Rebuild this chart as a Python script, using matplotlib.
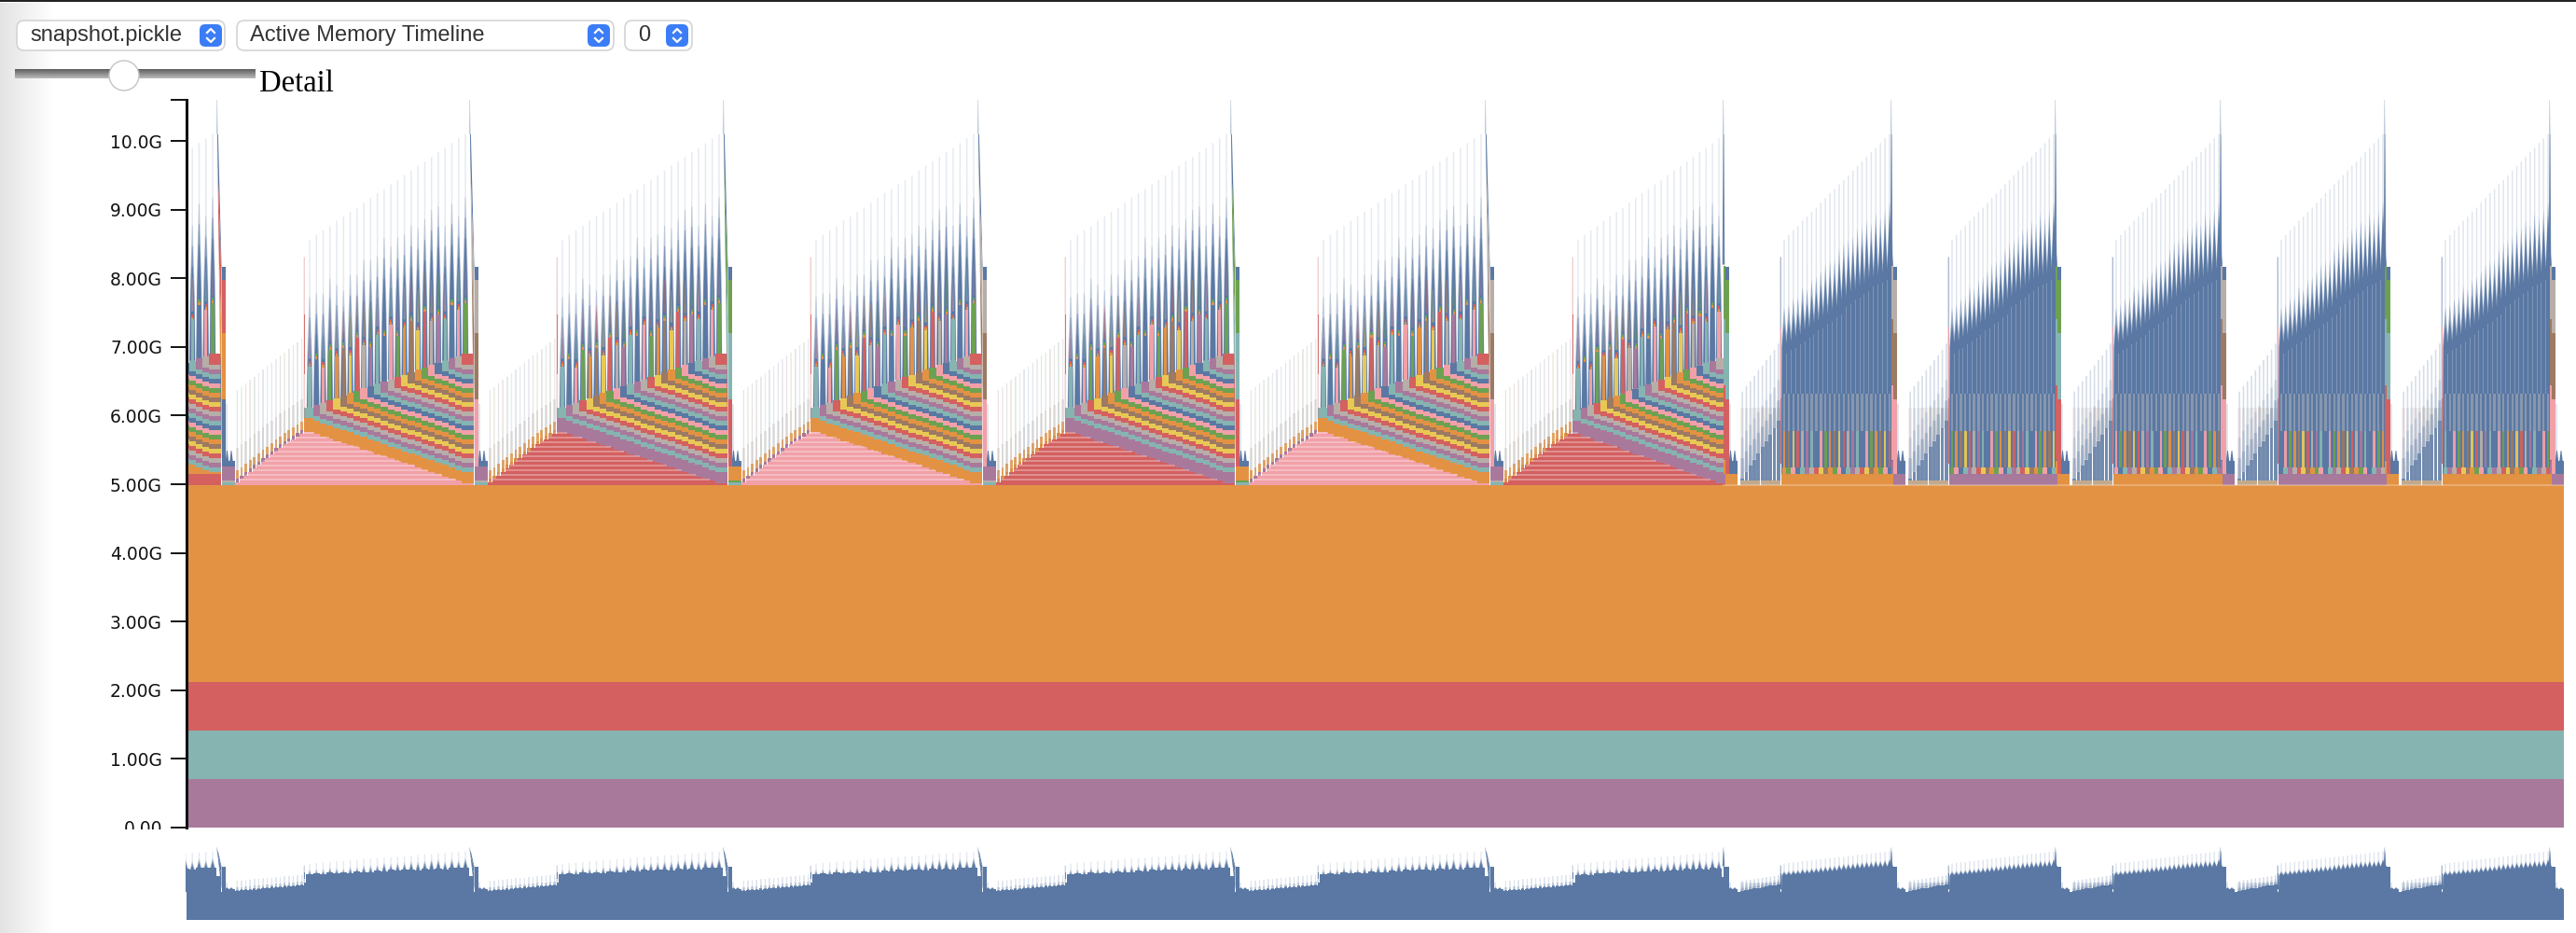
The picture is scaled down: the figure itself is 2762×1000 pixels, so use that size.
import numpy as np
import matplotlib
matplotlib.use("Agg")
import matplotlib.pyplot as plt
from matplotlib.collections import PolyCollection
from matplotlib.colors import to_rgba
from matplotlib.patches import Ellipse, FancyBboxPatch
from matplotlib.transforms import Bbox

# heights are in G, times are the timeline position of each allocation step
BLUE, ORANGE, RED, TEAL, GREEN = "#5a78a3", "#e39243", "#d46060", "#86b4b1", "#6da152"
YELLOW, PURPLE, PINK, BROWN, GREY = "#e8c855", "#a9799c", "#f2a0a8", "#9c7a63", "#b7aea9"
PALETTE = [BLUE, ORANGE, RED, TEAL, GREEN, YELLOW, PURPLE, PINK, BROWN, GREY]

BASE_BANDS = [(0.0, 0.71, PURPLE), (0.71, 1.42, TEAL), (1.42, 2.12, RED), (2.12, 4.99, ORANGE)]
Y_TICKS = [0, 1, 2, 3, 4, 5, 6, 7, 8, 9, 10]
Y_LABELS = ["0.00", "1.00G", "2.00G", "3.00G", "4.00G", "5.00G", "6.00G", "7.00G", "8.00G", "9.00G", "10.0G"]
Y_MAX = 10.6
T_END = 2549

LONG_PEAKS = [32, 303, 575, 848, 1119, 1392, 1647]
SHORT_PEAKS = [1647, 1827, 2003, 2180, 2356, 2533]
LONG_BAND = [ORANGE, PURPLE, ORANGE, PURPLE, ORANGE, PURPLE]
LONG_TRI = [PINK, RED, PINK, RED, PINK, RED]
SHORT_BASE = [ORANGE, PURPLE, ORANGE, PURPLE, ORANGE]
TAIL_PEAKS = [32, 303, 575, 848, 1119, 1392, 1647, 1827, 2003, 2180, 2356, 2533]
TAIL_BLOCK = [PURPLE, PURPLE, ORANGE, PURPLE, ORANGE, PURPLE, ORANGE, PURPLE, ORANGE, PURPLE, ORANGE, PURPLE]
TAIL_TIERS = [
    (RED, ORANGE, BLUE), (GREY, BROWN, PINK), (GREEN, TEAL, RED), (GREY, BROWN, PINK),
    (GREEN, TEAL, RED), (GREY, BROWN, PINK), (GREEN, TEAL, RED), (GREY, BROWN, PINK),
    (GREEN, TEAL, RED), (GREY, BROWN, PINK), (GREEN, TEAL, RED), (GREY, BROWN, PINK),
]
TAIL_LEVELS = [7.98, 7.20, 6.24, 5.26]
WEDGE_LEVELS = [9.63, 8.40, 7.06, 5.60]

PALE_TOP = [8.56, 8.63, 8.70, 8.76, 8.84, 8.90, 8.97, 9.03, 9.10, 9.17, 9.24, 9.30,
            9.37, 9.43, 9.50, 9.57, 9.64, 9.70, 9.77, 9.84, 9.90, 9.97, 10.04, 10.10]
LONG_BLUE_TOP = [7.43, 7.48, 7.48, 7.70, 7.61, 7.52, 7.75, 7.75, 7.97, 7.97, 8.02, 8.29,
                 8.16, 8.29, 8.34, 8.47, 8.43, 8.56, 8.70, 8.75, 8.47, 8.79, 8.61, 8.88]
BAND_TOP = [5.96, 5.93, 5.89, 5.86, 5.82, 5.79, 5.76, 5.72, 5.69, 5.65, 5.62, 5.59,
            5.55, 5.52, 5.48, 5.45, 5.42, 5.38, 5.35, 5.31, 5.28, 5.25, 5.21, 5.18]
TRI_TOP = [5.76, 5.73, 5.70, 5.67, 5.63, 5.60, 5.57, 5.54, 5.51, 5.47, 5.44, 5.41,
           5.38, 5.34, 5.31, 5.28, 5.24, 5.21, 5.18, 5.15, 5.11, 5.08, 5.05, 5.01]
BAR_LEN = [0.59, 0.66, 0.52, 0.74, 0.61, 0.70, 0.55, 0.78, 0.63, 0.58, 0.72, 0.66,
           0.80, 0.60, 0.69, 0.75, 0.57, 0.82, 0.64, 0.71, 0.60, 0.77, 0.68, 0.73]
RAMP_TOP = [5.03, 5.08, 5.13, 5.18, 5.23, 5.28, 5.33, 5.38, 5.43, 5.48, 5.53, 5.58, 5.62, 5.66, 5.70, 5.74]
RAMP_PALE_TOP = [6.37, 6.42, 6.47, 6.52, 6.57, 6.62, 6.67, 6.72, 6.77, 6.82, 6.87, 6.92, 6.97, 7.02, 7.07, 7.12]
SHORT_RAMP_PALE = [6.35, 6.43, 6.50, 6.58, 6.66, 6.73, 6.81, 6.88, 6.96, 7.05]
SHORT_RAMP_BLUE = [5.08, 5.18, 5.27, 5.36, 5.45, 5.54, 5.63, 5.72, 5.81, 5.92]
SHORT_BLUE_TOP = [7.48, 7.52, 7.61, 7.63, 7.79, 7.75, 7.88, 7.93, 8.02, 8.11, 8.16, 8.18,
                  8.34, 8.43, 8.47, 8.52, 8.63, 8.65, 8.75, 8.70, 8.86, 8.79, 8.90, 9.02]
SHORT_NOTCH = [7.00, 7.06, 7.08, 7.14, 7.18, 7.24, 7.27, 7.34, 7.37, 7.44, 7.47, 7.54,
               7.58, 7.68, 7.72, 7.79, 7.82, 7.88, 7.92, 7.98, 8.01, 8.04, 8.08, 8.13]
STRIPE = 0.068


def add(shapes, verts, color, alpha=1.0):
    shapes.append((verts, to_rgba(color, alpha)))


def rect(shapes, x0, x1, y0, y1, color, alpha=1.0):
    add(shapes, [(x0, y0), (x1, y0), (x1, y1), (x0, y1)], color, alpha)


def spike(shapes, x, base, top, half_base, half_top, color, alpha=1.0):
    add(shapes, [(x - half_base, base), (x + half_base, base), (x + half_top, top), (x - half_top, top)], color, alpha)


def taper(shapes, x, base, top, half_base, color, alpha=1.0):
    # wide foot, slow narrowing, long thin tip
    mid = base + (top - base) * 0.55
    add(shapes, [(x - half_base, base), (x + half_base, base), (x + half_base * 0.75, mid), (x + 0.4, top),
                 (x - 0.4, top), (x - half_base * 0.75, mid)], color, alpha)


def long_cycle(shapes, mini, p0, p1, band, tri, n):
    ramp_end = p0 + 94
    start = p0 + 100
    step = (p1 - 4 - start) / (n - 1)
    tri_top = TRI_TOP[-n:]
    band_top = BAND_TOP[-n:]
    xs = [start + step * k for k in range(n)]

    ramp_step = (ramp_end - (p0 + 20)) / len(RAMP_TOP)
    ramp_x = [p0 + 20 + ramp_step * (i + 0.5) for i in range(len(RAMP_TOP))]
    for i, x in enumerate(ramp_x):
        top = RAMP_TOP[i]
        rect(shapes, x - ramp_step / 2, x + ramp_step / 2, 4.99, top, tri)
        edge = [PURPLE, ORANGE][0 if tri == PINK else 1]
        rect(shapes, x - 1.6, x + 1.6, top, top + 0.05, edge)
        rect(shapes, x - 1.4, x + 1.4, top + 0.05, top + 0.17, ORANGE, 0.8)
        rect(shapes, x - 1.2, x + 1.2, top + 0.17, top + 0.5, GREY, 0.28)
        spike(shapes, x, top, RAMP_PALE_TOP[i], 0.8, 0.8, PALETTE[(i * 3 + 2) % 10], 0.1)
        spike(shapes, x, top, RAMP_PALE_TOP[i], 0.8, 0.7, BLUE, 0.1)

    # spikes behind the stack
    for k, x in enumerate(xs):
        top = band_top[k] + k * STRIPE + 0.16
        blue_top = LONG_BLUE_TOP[k]
        spike(shapes, x, top, PALE_TOP[k], 0.85, 0.75, BLUE, 0.15)
        rect(mini, x - step / 2, x + step / 2, 5.0, top + BAR_LEN[k] + 0.45, BLUE)
        taper(shapes, x, top, blue_top + 0.3, 3.4, BLUE, 0.3)
        taper(shapes, x, top, blue_top, 3.1, BLUE, 0.6)
        taper(shapes, x, top, blue_top - 0.3, 2.8, BLUE, 1.0)

    for k, x in enumerate(xs):
        x0 = ramp_end if k == 0 else x - step / 2
        x1 = p1 + 5 if k == n - 1 else x + step / 2
        rect(shapes, x0, x1, 4.99, tri_top[k], tri)
        rect(shapes, x0, x1, tri_top[k], band_top[k], band)
        for j in range(k):
            y = band_top[k] + j * STRIPE
            rect(shapes, x0, x1, y, y + STRIPE, PALETTE[(j * 3 + 3) % 10])
        y = band_top[k] + k * STRIPE
        rect(shapes, x0, x1, y, y + 0.16, PALETTE[(k * 3 + 3) % 10])
        top = y + 0.16
        bar = PALETTE[(k * 7 + 3) % 10]
        rect(shapes, x - 1.7, x + 1.7, top, top + BAR_LEN[k], bar)
        d = top + BAR_LEN[k]
        rect(shapes, x - 1.1, x + 1.1, d, d + 0.04, ORANGE)
        rect(shapes, x - 1.1, x + 1.1, d + 0.04, d + 0.08, GREEN if k % 2 else RED)
        rect(shapes, x - 1.0, x + 1.0, d + 0.08, d + 0.12, BLUE)
        spike(shapes, x, d + 0.12, d + 0.6, 1.2, 0.3, PALETTE[(k * 3 + 7) % 10], 0.45)

    # thin paler rules through the triangle
    tops = np.array(RAMP_TOP)
    for level in np.arange(5.06, 5.74, STRIPE):
        left = np.interp(level, tops, ramp_x)
        right = np.interp(-level, -np.array(tri_top), xs)
        rect(shapes, left, right, level, level + 0.016, "white", 0.3)

    spike(shapes, ramp_end + 0.3, 5.96, 8.31, 0.8, 0.7, RED, 0.3)
    spike(shapes, ramp_end + 0.3, 6.60, 7.47, 0.8, 0.8, RED, 0.85)


def short_cycle(shapes, mini, p0, p1, base, offset):
    ramp_start = p0 + 19
    ramp_end = p0 + 62
    ramp_step = (ramp_end - ramp_start) / len(SHORT_RAMP_PALE)
    for i in range(len(SHORT_RAMP_PALE)):
        x = ramp_start + ramp_step * (i + 0.5)
        b = SHORT_RAMP_BLUE[i]
        spike(shapes, x, 5.0, SHORT_RAMP_PALE[i], 0.9, 0.8, BLUE, 0.25)
        rect(shapes, x - 1.9, x + 1.9, 5.0, 6.11, PALETTE[(i * 3 + 7) % 10], 0.09)
        rect(shapes, x - 1.9, x + 1.9, 5.0, 6.11, GREY, 0.09)
        spike(shapes, x, b, b + 0.6, 1.9, 1.3, BLUE, 0.18)
        spike(shapes, x, b, b + 0.3, 1.9, 1.5, BLUE, 0.3)
        rect(shapes, x - 1.9, x + 1.9, 5.06, b, BLUE, 0.8)
        rect(shapes, x - 2.1, x + 2.1, 4.99, 5.06, "#c3a98c")
        rect(mini, x - ramp_step / 2, x + ramp_step / 2, 4.99, b, BLUE)

    # the base runs under the whole column block
    rect(shapes, ramp_end + 1, p1 + 3, 4.99, 5.15, base)
    n = len(SHORT_BLUE_TOP)
    start = p0 + 66
    step = (p1 - 1 - start) / (n - 1)
    xs = [start + step * k for k in range(n)]
    for k, x in enumerate(xs):
        spike(shapes, x, 5.3, PALE_TOP[k], 0.85, 0.75, BLUE, 0.18)

    verts = [(ramp_end + 1, 5.15)]
    faded = [(ramp_end + 1, 5.15)]
    for k, x in enumerate(xs):
        verts += [(x - step / 2, SHORT_NOTCH[k]), (x, SHORT_BLUE_TOP[k] - 0.12)]
        faded += [(x - step / 2, SHORT_NOTCH[k] + 0.12), (x, SHORT_BLUE_TOP[k] + 0.1)]
    verts += [(p1 + 3, SHORT_NOTCH[-1]), (p1 + 3, 5.15)]
    faded += [(p1 + 3, SHORT_NOTCH[-1]), (p1 + 3, 5.15)]
    add(shapes, faded, BLUE, 0.55)
    add(shapes, verts, BLUE)

    for k, x in enumerate(xs):
        rect(shapes, x - step / 2, x + step / 2, 5.15, 5.245, PALETTE[(k * 3 + offset) % 10])
        rect(shapes, x - 1.3, x + 1.3, 5.245, 5.78, PALETTE[(k * 7 + offset) % 10], 0.95)
        rect(shapes, x - 1.2, x + 1.2, 5.78, 6.32, "#b6b7ba", 0.5)
        rect(shapes, x + step / 2 - 0.5, x + step / 2 + 0.5, 6.32, SHORT_NOTCH[k] - 0.1, "white", 0.22)

    spike(shapes, ramp_end + 0.3, 5.3, 8.31, 0.8, 0.7, BLUE, 0.5)
    spike(shapes, ramp_end + 0.3, 5.3, 7.30, 0.8, 0.8, PINK, 0.95)
    spike(shapes, ramp_end + 0.3, 5.3, 6.25, 0.8, 0.8, RED, 0.7)


def tail(shapes, peak, tiers, block, is_short):
    bx0 = peak + (3 if is_short else 5.5)
    bx1 = peak + (7 if is_short else 10)
    bx2 = peak + (16 if is_short else 19.5)
    top_block = 5.15 if is_short else 5.26

    # the last little spikes next to the block
    spike(shapes, bx1 + 1, 5.3, 6.17, 0.8, 0.7, BLUE, 0.25)
    for dx in (1.5, 6):
        spike(shapes, bx1 + dx, 5.3, 5.49, 2.0, 0.4, BLUE)
    rect(shapes, bx0, bx2, top_block, 5.34, BLUE)
    rect(shapes, bx0, bx2, 4.99, top_block, block)
    if not is_short:
        rect(shapes, bx0, bx2, 5.03, 5.06, GREY if block == PURPLE else GREEN)
        rect(shapes, bx0, bx2, 4.99, 5.03, TEAL)

    bottoms = [TAIL_LEVELS[1], TAIL_LEVELS[2], top_block]
    tops = TAIL_LEVELS[:3]
    # the very tip of each peak is only a faint sliver
    spike(shapes, peak + 0.7, 10.1, Y_MAX, 0.8, 0.3, BLUE, 0.4)
    if is_short:
        shift = 0.2
        spike(shapes, peak + 1, 8.2, 10.1, 1.3, 0.5, BLUE, 0.9)
        for color, t, b in zip(tiers, tops, bottoms):
            rect(shapes, peak + 0.5, bx0, b + shift, t + shift, color)
        rect(shapes, peak + 0.5, bx0, top_block, top_block + 0.19, block)
    else:
        def left(level):
            return peak + 0.5 + 5.0 * (Y_MAX - level) / 5.4

        add(shapes, [(left(10.1), 10.1), (left(10.1) + 0.9, 10.1), (bx0, 8.17), (bx0, tops[0]),
                     (left(WEDGE_LEVELS[0]), WEDGE_LEVELS[0])], BLUE)
        for i, color in enumerate(tiers):
            add(shapes, [(left(WEDGE_LEVELS[i]), WEDGE_LEVELS[i]), (bx0, TAIL_LEVELS[i]),
                         (bx0, TAIL_LEVELS[i + 1]), (left(WEDGE_LEVELS[i + 1]), WEDGE_LEVELS[i + 1])], color)
    rect(shapes, bx0, bx1, tops[0], 8.17, BLUE)
    for color, t, b in zip(tiers, tops, bottoms):
        rect(shapes, bx0, bx1, b, t, color)


def draw_layer(ax, shapes, mono):
    faces = []
    for _, c in shapes:
        faces.append(to_rgba(BLUE, c[3]) if mono else c)
    coll = PolyCollection([s[0] for s in shapes], facecolors=faces, edgecolors="none", linewidths=0)
    ax.add_collection(coll, autolim=False)


shapes = []
mini = []
for y0, y1, color in BASE_BANDS:
    rect(shapes, 0, T_END, y0, y1, color)

# the recording starts part way through a cycle
long_cycle(shapes, mini, -239, LONG_PEAKS[0], ORANGE, PINK, 24)
rect(shapes, 0, 37, 4.99, 5.15, RED)
for i in range(len(LONG_PEAKS) - 1):
    n = 23 if i == len(LONG_PEAKS) - 2 else 24
    long_cycle(shapes, mini, LONG_PEAKS[i], LONG_PEAKS[i + 1], LONG_BAND[i], LONG_TRI[i], n)
for i in range(len(SHORT_PEAKS) - 1):
    short_cycle(shapes, mini, SHORT_PEAKS[i], SHORT_PEAKS[i + 1], SHORT_BASE[i], i * 3 + 1)
for peak, tiers, block in zip(TAIL_PEAKS, TAIL_TIERS, TAIL_BLOCK):
    tail(shapes, peak, tiers, block, peak >= SHORT_PEAKS[0])
# faint light seam where the orange block meets the stack above it
rect(shapes, SHORT_PEAKS[0], T_END, 4.98, 5.0, "white", 0.25)

fig = plt.figure(figsize=(27.62, 10.0), dpi=100, facecolor="white")

ax = fig.add_axes([200 / 2762, 113 / 1000, T_END / 2762, 780 / 1000])
ax.set_xlim(0, T_END)
ax.set_ylim(0, Y_MAX)
draw_layer(ax, shapes, False)
for side in ("top", "right", "bottom"):
    ax.spines[side].set_visible(False)
ax.spines["left"].set_linewidth(2.2)
ax.spines["left"].set_color("#111111")
ax.set_xticks([])
ax.set_yticks(Y_TICKS + [Y_MAX])
ax.set_yticklabels(Y_LABELS + [""], family="DejaVu Sans", fontsize=13.5, color="#111111")
ax.tick_params(axis="y", length=12.2, width=1.4, pad=6.5, color="#111111")
for lab in ax.get_yticklabels():
    lab.set_clip_box(Bbox([[0, 111], [200, 1000]]))
    lab.set_clip_on(True)

ax_mini = fig.add_axes([199 / 2762, 14 / 1000, (T_END + 1) / 2762, 78 / 1000])
ax_mini.set_xlim(-1, T_END)
ax_mini.set_ylim(1.38, 10.64)
ax_mini.axis("off")
draw_layer(ax_mini, mini + shapes, True)

# page furniture around the chart, in screen pixels
ui = fig.add_axes([0, 0, 1, 1], zorder=5)
ui.patch.set_alpha(0)
ui.axis("off")
shade = np.linspace(0.89, 1.0, 60).reshape(1, -1)
ui.imshow(shade, extent=(0, 60, 1000, 3), cmap="gray", vmin=0, vmax=1, aspect="auto", zorder=0)
ui.fill_between([0, 2762], 0, 2, color="#222222", lw=0)

SELECTS = [(18, 241, "snapshot.pickle", 32, 214), (254, 658, "Active Memory Timeline", 268, 630), (670, 742, "0", 684, 714)]
for x0, x1, label, tx, bx in SELECTS:
    ui.add_patch(FancyBboxPatch((x0 + 5, 27), x1 - x0 - 10, 22, boxstyle="round,pad=5,rounding_size=8",
                                fc="white", ec="#d4d4d4", lw=1.2))
    ui.add_patch(FancyBboxPatch((bx + 4, 30), 16, 16, boxstyle="round,pad=4,rounding_size=6",
                                fc="#3b7df6", ec="none"))
    cx = bx + 12
    ui.plot([cx - 4, cx, cx + 4], [35, 31, 35], color="white", lw=1.6)
    ui.plot([cx - 4, cx, cx + 4], [41, 45, 41], color="white", lw=1.6)
    ui.text(tx, 38, label, family="Liberation Sans", fontsize=17, color="#333333", va="center", ha="left")

track = np.linspace(0.38, 0.72, 12).reshape(-1, 1)
ui.imshow(track, extent=(16, 274, 84, 74), cmap="gray", vmin=0, vmax=1, aspect="auto", zorder=1)
ui.add_patch(Ellipse((133, 81), 32, 32, fc="white", ec="#c4c4c4", lw=1.0, zorder=3))
ui.text(278, 98, "Detail", family="Liberation Serif", fontsize=23.5, color="black", va="baseline", ha="left")
ui.set_xlim(0, 2762)
ui.set_ylim(1000, 0)

fig.savefig("out.png", dpi=100)
plt.close(fig)
